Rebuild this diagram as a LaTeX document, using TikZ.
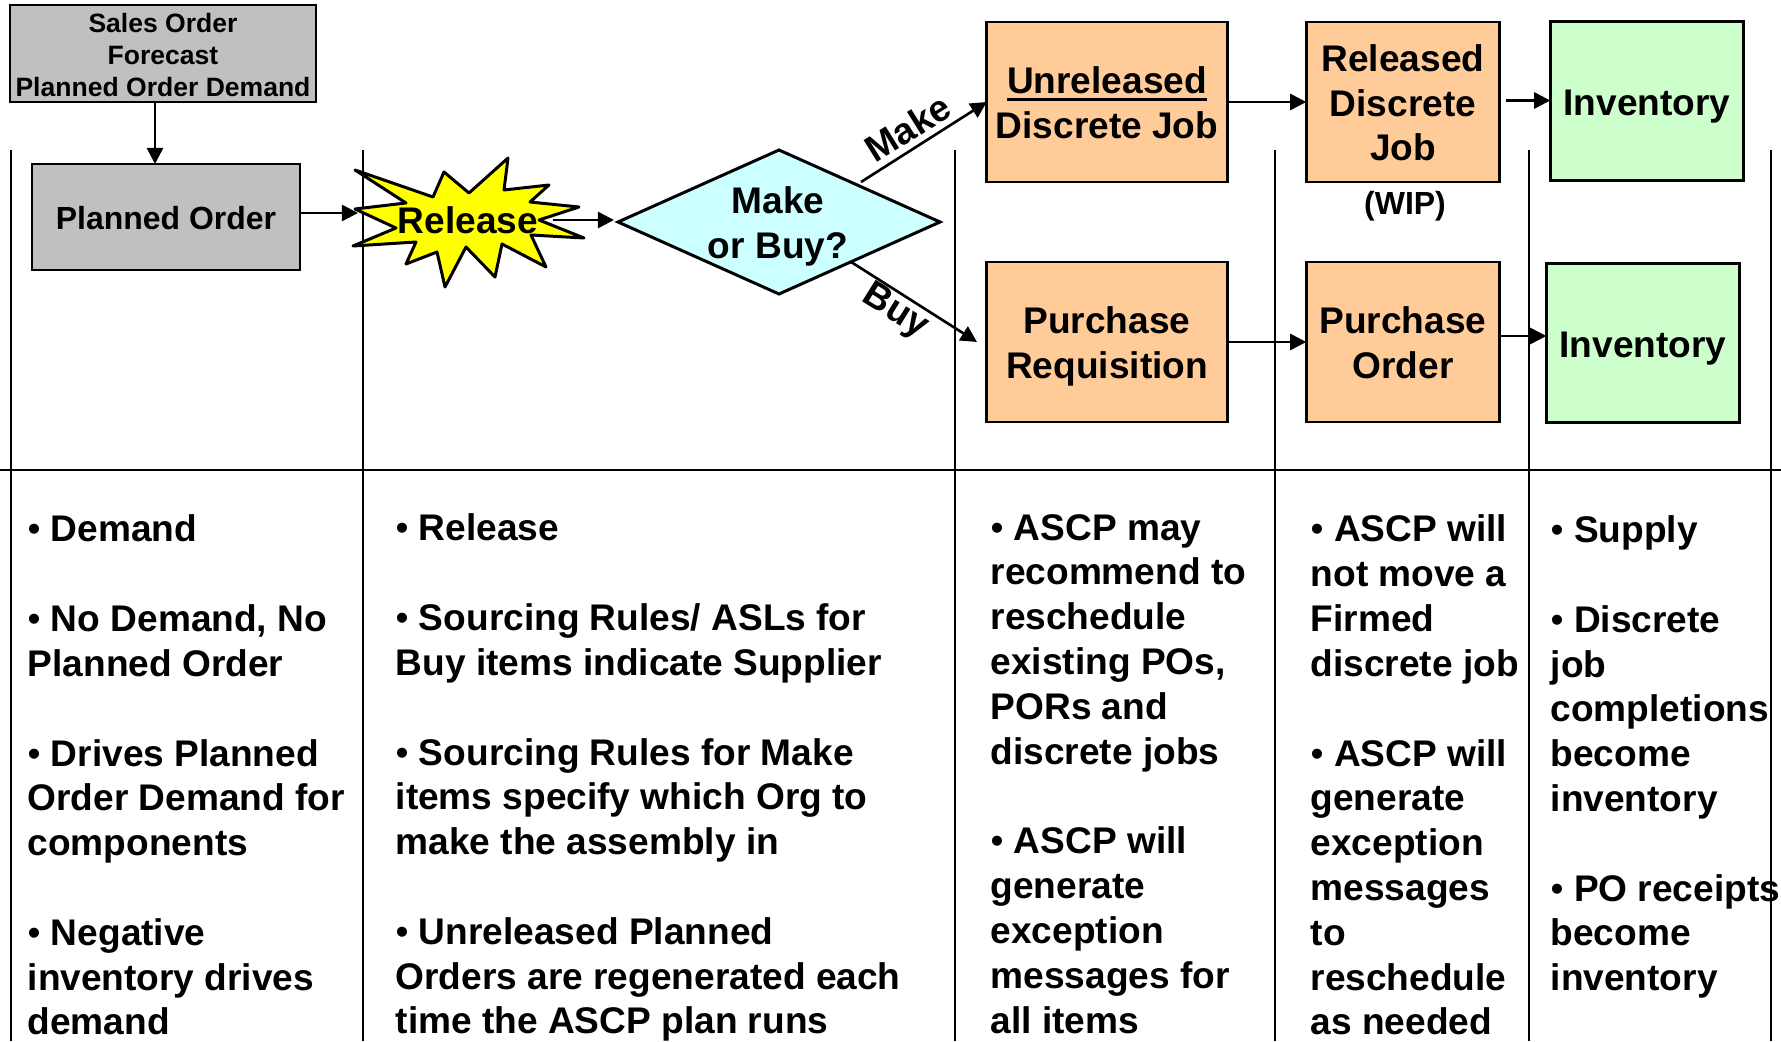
\documentclass[tikz,border=0pt]{standalone}
\usepackage{fontspec}
\setmainfont{Liberation Sans}
\usetikzlibrary{shapes.geometric,arrows.meta}
\newcommand{\bigbold}{\fontsize{10.55}{12.75}\selectfont\bfseries}
\newcommand{\boxline}{\vrule width0pt height 10.7pt depth 0pt}
\newcommand{\boxfoot}{\vrule width0pt height 0pt depth 2.67pt}
\newcommand{\underrule}[1]{\setbox0\hbox{#1}\leavevmode\rlap{\vrule width\wd0 height -1.35pt depth 2.2pt}\box0}
\tikzset{
  stage/.style={draw=black, line width=.85pt, outer sep=0pt, align=center, inner sep=0pt, font=\bigbold},
  planbox/.style={stage, fill=planfill},
  jobbox/.style={stage, fill=jobfill, minimum height=1.6cm},
  stockbox/.style={stage, fill=stockfill, minimum width=1.935cm, minimum height=1.59cm},
  rule/.style={line width=.8pt},
  flow/.style={->, >={Triangle[length=4.6pt,width=4.6pt]}, line width=.75pt},
  notes/.style={anchor=north west, align=left, inner sep=0pt, font=\bigbold},
  tag/.style={inner sep=0pt, font=\bigbold}
}
\definecolor{planfill}{HTML}{C0C0C0}
\definecolor{jobfill}{HTML}{FFCC99}
\definecolor{stockfill}{HTML}{CCFFCC}
\definecolor{askfill}{HTML}{CCFFFF}
\definecolor{burstfill}{HTML}{FFFF00}
\begin{document}
\begin{tikzpicture}
          \useasboundingbox (0,0) rectangle (17.81,10.41);

          \foreach \x in {0.11,3.63,9.55,12.75,15.29,17.71}
            \draw[rule] (\x,8.91) -- (\x,0);
          \draw[rule] (0,5.71) -- (17.81,5.71);

          \node[planbox, minimum width=3.06cm, minimum height=.97cm, font=\fontsize{7.55}{9.1}\selectfont\bfseries] (sales) at (1.63,9.875) {\vrule width0pt height 6.4pt depth 0pt Sales Order\\Forecast\\Planned Order Demand};
          \node[planbox, minimum width=2.68cm, minimum height=1.06cm, font=\fontsize{9.1}{11}\selectfont\bfseries] (planned) at (1.66,8.24) {\vrule width0pt height 7.2pt depth 0pt Planned Order};
          \coordinate (drop) at (1.55,9);
          \draw[flow] (sales.south -| drop) -- (planned.north -| drop);

          \draw[line width=.85pt, line join=round, fill=burstfill] (3.55,8.71) -- (4.33,8.44) -- (4.44,8.69) -- (4.69,8.48) -- (5.08,8.83) -- (5.04,8.51)
            -- (5.49,8.56) -- (5.30,8.39) -- (5.79,8.34) -- (5.39,8.21) -- (5.84,8.03) -- (5.31,8.06)
            -- (5.46,7.74) -- (5.02,7.97) -- (4.95,7.64) -- (4.66,7.94) -- (4.45,7.54) -- (4.37,7.89)
            -- (4.06,7.77) -- (4.16,7.99) -- (3.53,7.95) -- (3.96,8.13) -- (3.55,8.32) -- (4.06,8.38) -- cycle;
          \node[inner sep=0pt, minimum width=1.68cm, font=\bigbold] (release) at (4.68,8.21) {Release};
          \coordinate (burstin) at (3.58,8.28);
          \draw[flow] (planned.east |- burstin) -- (burstin);

          \node[draw, diamond, fill=askfill, line width=.85pt, minimum width=3.22cm, minimum height=1.44cm, inner sep=0pt, outer sep=0pt] (choice) at (7.79,8.19) {};
          \node[align=center, inner sep=0pt, font=\bigbold] (choicetext) at (7.78,8.19) {\boxline Make\\or Buy?\boxfoot};
          \coordinate (choicein) at (6.14,8.21);
          \draw[flow] (release.east |- choicein) -- (choicein);

          \node[jobbox, minimum width=2.405cm] (unreleased) at (11.07,9.39) {\boxline\underrule{Unreleased}\\Discrete Job\boxfoot};
          \node[jobbox, minimum width=2.405cm] (requisition) at (11.07,6.99) {\boxline Purchase\\Requisition\boxfoot};
          \node[jobbox, minimum width=1.935cm] (released) at (14.03,9.39) {\boxline Released\\Discrete\\Job\boxfoot};
          \node[jobbox, minimum width=1.935cm] (order) at (14.03,6.99) {\boxline Purchase\\Order\boxfoot};
          \node[stockbox] (stockmake) at (16.47,9.40) {\boxline Inventory\boxfoot};
          \node[stockbox] (stockbuy) at (16.43,6.98) {\boxline Inventory\boxfoot};
          \node[tag, font=\fontsize{9.1}{11}\selectfont\bfseries] (wip) at (14.05,8.345) {(WIP)};

          \coordinate (makestart) at (8.61,8.59);
          \coordinate (buyend) at (9.77,6.99);
          \coordinate (stockout) at (15.06,9.405);
          \coordinate (orderout) at (15.00,7.05);
          \draw[flow] (makestart) -- (unreleased.west);
          \draw[flow] (choice.-29) -- (buyend);
          \draw[flow] (unreleased.east) -- (released.west);
          \draw[flow] (requisition.east) -- (order.west);
          \draw[flow] (stockout) -- (stockmake.west |- stockout);
          \draw[flow] (order.east |- orderout) -- (stockbuy.west |- orderout);

          \node[tag, rotate=32] (make) at (9.08,9.13) {Make};
          \node[tag, rotate=-32] (buy) at (8.95,7.29) {Buy};

          \node[notes] (demandnotes) at (0.27,5.266) {{\mdseries •} Demand\\ \\{\mdseries •} No Demand, No\\Planned Order\\ \\{\mdseries •} Drives Planned\\Order Demand for\\components\\ \\{\mdseries •} Negative\\inventory drives\\demand};
          \node[notes] (releasenotes) at (3.95,5.276) {{\mdseries •} Release\\ \\{\mdseries •} Sourcing Rules/ ASLs for\\Buy items indicate Supplier\\ \\{\mdseries •} Sourcing Rules for Make\\items specify which Org to\\make the assembly in\\ \\{\mdseries •} Unreleased Planned\\Orders are regenerated each\\time the ASCP plan runs};
          \node[notes] (ascpnotes) at (9.90,5.275) {{\mdseries •} ASCP may\\recommend to\\reschedule\\existing POs,\\PORs and\\discrete jobs\\ \\{\mdseries •} ASCP will\\generate\\exception\\messages for\\all items};
          \node[notes] (firmnotes) at (13.10,5.266) {{\mdseries •} ASCP will\\not move a\\Firmed\\discrete job\\ \\{\mdseries •} ASCP will\\generate\\exception\\messages\\to\\reschedule\\as needed};
          \node[notes] (supplynotes) at (15.50,5.26) {{\mdseries •} Supply\\ \\{\mdseries •} Discrete\\job\\completions\\become\\inventory\\ \\{\mdseries •} PO receipts\\become\\inventory};
        \end{tikzpicture}
\end{document}
